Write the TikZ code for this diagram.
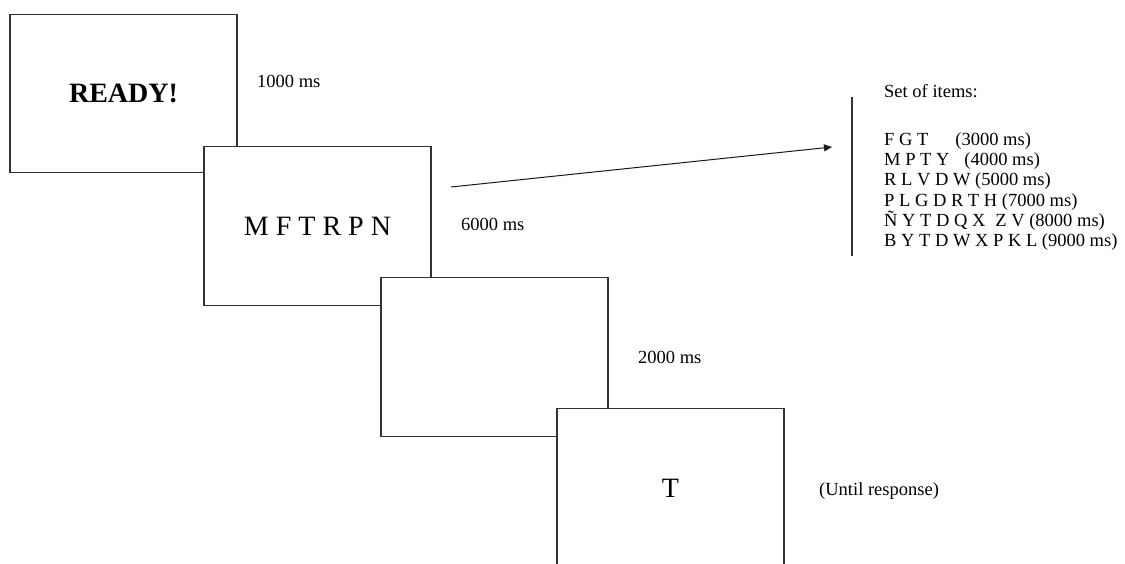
\documentclass[tikz,border=0pt]{standalone}
\usepackage{fontspec}
\setmainfont{Liberation Serif}
\usetikzlibrary{arrows.meta}
\begin{document}
\begin{tikzpicture}[x=1pt,y=-1pt,
  screen/.style={draw=black!80, line width=1.2pt, fill=white, minimum width=227pt, minimum height=158.5pt, inner sep=0pt},
  big/.style={font=\fontsize{28}{30}\selectfont},
  lbl/.style={anchor=base west, inner sep=0pt, font=\fontsize{18.5}{20}\selectfont},
  conn/.style={draw=black!90, line width=1pt, -{Triangle[length=8pt,width=7pt]}}]
\useasboundingbox (0,0) rectangle (1125,563);
\clip (0,0) rectangle (1125,563);
\node[screen, big] (s1) at (123.5,93.5) {\textbf{READY!}};
\node[screen, big] (s2) at (317.5,226) {M F T R P N};
\node[screen] (s3) at (494.5,357) {};
\node[screen, big] (s4) at (670.5,488) {T};
\node[lbl] (t1) at (257,87) {1000 ms};
\node[lbl] (t2) at (461,230) {6000 ms};
\node[lbl] (t3) at (638,363) {2000 ms};
\node[lbl] (t4) at (819,495) {(Until response)};
\node[lbl] (h) at (884,97) {Set of items:};
\node[lbl] (l1) at (884,145) {F G T\hspace{27pt}(3000 ms)};
\node[lbl] (l2) at (884,165.3) {M P T Y\hspace{15pt}(4000 ms)};
\node[lbl] (l3) at (884,185.6) {R L V D W (5000 ms)};
\node[lbl] (l4) at (884,206) {P L G D R T H (7000 ms)};
\node[lbl] (l5) at (884,226.2) {Ñ Y T D Q X\hspace{10pt}Z V (8000 ms)};
\node[lbl] (l6) at (884,246.5) {B Y T D W X P K L (9000 ms)};
\coordinate (a0) at (451,187);
\coordinate (a1) at (832,147);
\coordinate (v0) at (852,97);
\coordinate (v1) at (852,256);
\draw[conn] (a0) -- (a1);
\draw[draw=black!80, line width=1.2pt] (v0) -- (v1);
\end{tikzpicture}
\end{document}
